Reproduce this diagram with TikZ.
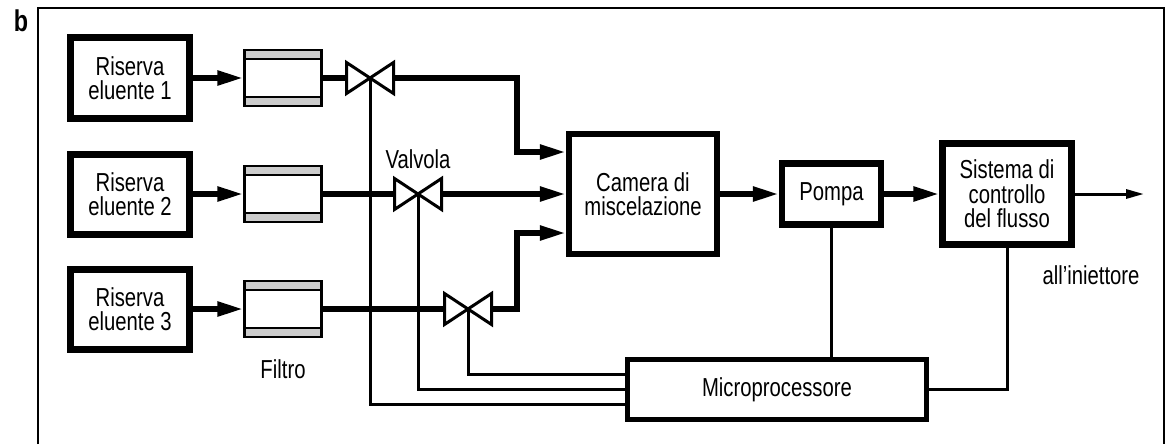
\documentclass[tikz,border=0pt]{standalone}
\usepackage{fontspec}
\setmainfont{Liberation Sans}[FakeStretch=0.78]
\usetikzlibrary{calc,arrows.meta}

\begin{document}
\begin{tikzpicture}[x=1pt,y=-1pt,
  font=\fontsize{26}{24.5}\selectfont,
  riserva/.style={draw,line width=7pt,minimum width=119pt,minimum height=80pt,inner sep=0pt,align=center},
  filtro/.style={draw,line width=2.5pt,fill=white,minimum width=77pt,minimum height=56pt,inner sep=0pt,
    path picture={
      \fill[gray!40] (path picture bounding box.north west) rectangle ([yshift=-9pt]path picture bounding box.north east);
      \fill[gray!40] (path picture bounding box.south west) rectangle ([yshift=9pt]path picture bounding box.south east);
      \draw[line width=2pt] ([yshift=-9pt]path picture bounding box.north west) -- ([yshift=-9pt]path picture bounding box.north east);
      \draw[line width=2pt] ([yshift=9pt]path picture bounding box.south west) -- ([yshift=9pt]path picture bounding box.south east);
    }},
  valvola/.style={minimum width=47pt,minimum height=31pt,inner sep=0pt,outer sep=0pt},
  blocco/.style={draw,line width=6.5pt,inner sep=0pt,align=center},
  flusso/.style={line width=5.5pt,-{Triangle[length=26pt,width=14pt]}},
  linea/.style={line width=3pt}]
\useasboundingbox (0,0) rectangle (1166,444);
\node[font=\fontsize{30}{30}\selectfont\bfseries] (lettera) at (21,21) {b};
\draw[line width=2.5pt] (38,444) |- (1164,8) -- (1164,444);

\node[riserva] (ris1) at (130,78) {Riserva\\eluente 1};
\node[riserva] (ris2) at (130,194) {Riserva\\eluente 2};
\node[riserva] (ris3) at (130,309) {Riserva\\eluente 3};
\node[filtro] (fil1) at (283,78) {};
\node[filtro] (fil2) at (283,194) {};
\node[filtro] (fil3) at (283,309) {};
\node (lblfiltro) at (283,369) {Filtro};
\node[valvola] (v1) at (370,78) {};
\node[valvola] (v2) at (418,194) {};
\node[valvola] (v3) at (468,309) {};
\node (lblvalvola) at (418,159) {Valvola};

\node[blocco,minimum width=148pt,minimum height=120pt] (cam) at (643,194) {Camera di\\miscelazione};
\node[blocco,minimum width=99pt,minimum height=61pt] (pompa) at (831.5,194) {Pompa};
\node[blocco,minimum width=129pt,minimum height=101pt] (sis) at (1007,194) {Sistema di\\controllo\\del flusso};
\node[draw,line width=5pt,minimum width=299pt,minimum height=60pt] (micro) at (777,389.5) {Microprocessore};
\coordinate (uscita) at (1144,194);
\node (lbluscita) at (1091,275) {all'iniettore};

\draw[flusso] (ris1.east) -- (fil1.west);
\draw[flusso] (ris2.east) -- (fil2.west);
\draw[flusso] (ris3.east) -- (fil3.west);
\draw[line width=5.5pt] (fil1.east) -- (v1.west);
\draw[line width=5.5pt] (fil2.east) -- (v2.west);
\draw[line width=5.5pt] (fil3.east) -- (v3.west);

\draw[linea] (v1.center) |- ([yshift=-15pt]micro.west);
\draw[linea] (v2.center) |- (micro.west);
\draw[linea] (v3.center) |- ([yshift=15pt]micro.west);
\foreach \v in {v1,v2,v3}
  \draw[line width=3pt,fill=white] (\v.north west) -- (\v.south east) -- (\v.north east) -- (\v.south west) -- cycle;

\draw[flusso] (v1.east) -| ($(cam.west)+(-49,-42)$) -- ($(cam.west)+(0,-42)$);
\draw[flusso] (v2.east) -- (cam.west);
\draw[flusso] (v3.east) -| ($(cam.west)+(-49,39)$) -- ($(cam.west)+(0,39)$);
\draw[flusso] (cam.east) -- (pompa.west);
\draw[flusso] (pompa.east) -- (sis.west);
\draw[line width=3pt,-{Triangle[length=18pt,width=9pt]}] (sis.east) -- (uscita);
\draw[linea] (pompa.south) -- (pompa.south |- micro.north);
\draw[linea] (sis.south) |- (micro.east);
\end{tikzpicture}
\end{document}
